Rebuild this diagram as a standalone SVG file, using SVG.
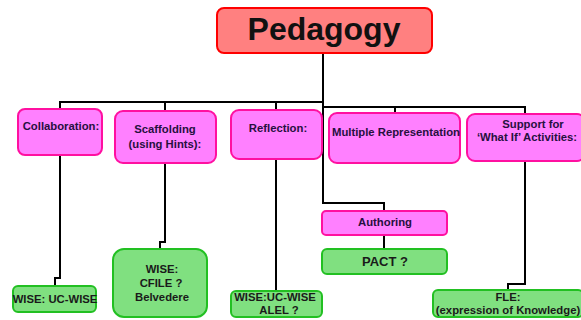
<svg xmlns="http://www.w3.org/2000/svg" width="581" height="320" viewBox="0 0 581 320">
<style>
.pk{fill:#FF80FF;stroke:#FF10A0;stroke-width:2}
.gr{fill:#80E080;stroke:#22C022;stroke-width:2}
.rd{fill:#FF8080;stroke:#FF0000;stroke-width:2}
.t{font-family:"Liberation Sans",Arial,sans-serif;font-weight:bold;font-size:11.3px;text-anchor:middle}
.tp{fill:#261040}
.tg{fill:#1a1a1a}
.big{font-size:13px}
.c{fill:none;stroke:#000;stroke-width:2}
</style>
<rect width="581" height="320" fill="#fff"/>
<g id="connectors">
<path class="c" d="M323,53 V203 H384 V211"/>
<path class="c" d="M323,102 H60 V109 M165,102 V111 M276,102 V110"/>
<path class="c" d="M323,107 H525 V114 M395,107 V113"/>
<path class="c" d="M60,155 V278 H55 V286"/>
<path class="c" d="M165,163 V242 H160 V249"/>
<path class="c" d="M276,159 V291"/>
<path class="c" d="M384,235 V249"/>
<path class="c" d="M525,161 V284 H508 V290"/>
</g>
<g id="pedagogy">
<rect class="rd" x="217" y="8" width="215" height="45" rx="7"/>
<text x="324" y="40" font-family="Liberation Sans,Arial,sans-serif" font-weight="bold" font-size="32" text-anchor="middle" fill="#111">Pedagogy</text>
</g>
<g id="collaboration">
<rect class="pk" x="18" y="109" width="84" height="46" rx="7"/>
<text class="t tp" x="61" y="130">Collaboration:</text>
</g>
<g id="scaffolding">
<rect class="pk" x="115" y="111" width="101" height="52" rx="8"/>
<text class="t tp" x="165" y="133">Scaffolding</text>
<text class="t tp" x="165" y="148">(using Hints):</text>
</g>
<g id="reflection">
<rect class="pk" x="231" y="110" width="91" height="49" rx="8"/>
<text class="t tp" x="278" y="132">Reflection:</text>
</g>
<g id="multiple">
<rect class="pk" x="329" y="113" width="131" height="50" rx="8"/>
<text class="t tp" x="396" y="136">Multiple Representation</text>
</g>
<g id="support">
<rect class="pk" x="467" y="114" width="118" height="47" rx="8"/>
<text class="t tp" x="533" y="128">Support for</text>
<text class="t tp" x="527" y="141">‘What If’ Activities:</text>
</g>
<g id="authoring">
<rect class="pk" x="322" y="211" width="125" height="24" rx="4"/>
<text class="t tp" x="385" y="226">Authoring</text>
</g>
<g id="pact">
<rect class="gr" x="322" y="249" width="125" height="25" rx="5"/>
<text class="t tg big" x="385" y="266">PACT ?</text>
</g>
<g id="wise-uc">
<rect class="gr" x="13" y="286" width="83" height="26" rx="5"/>
<text class="t tg" x="55" y="303">WISE: UC-WISE</text>
</g>
<g id="wise-cfile">
<rect class="gr" x="113" y="249" width="94" height="68" rx="11"/>
<text class="t tg" x="162" y="273">WISE:</text>
<text class="t tg" x="161" y="287">CFILE ?</text>
<text class="t tg" x="162" y="301">Belvedere</text>
</g>
<g id="wise-alel">
<rect class="gr" x="231" y="291" width="91" height="26" rx="5"/>
<text class="t tg" x="275" y="301">WISE:UC-WISE</text>
<text class="t tg" x="279" y="314">ALEL ?</text>
</g>
<g id="fle">
<rect class="gr" x="433" y="290" width="150" height="27" rx="5"/>
<text class="t tg" x="508" y="301">FLE:</text>
<text class="t tg" x="508" y="314">(expression of Knowledge)</text>
</g>
</svg>
